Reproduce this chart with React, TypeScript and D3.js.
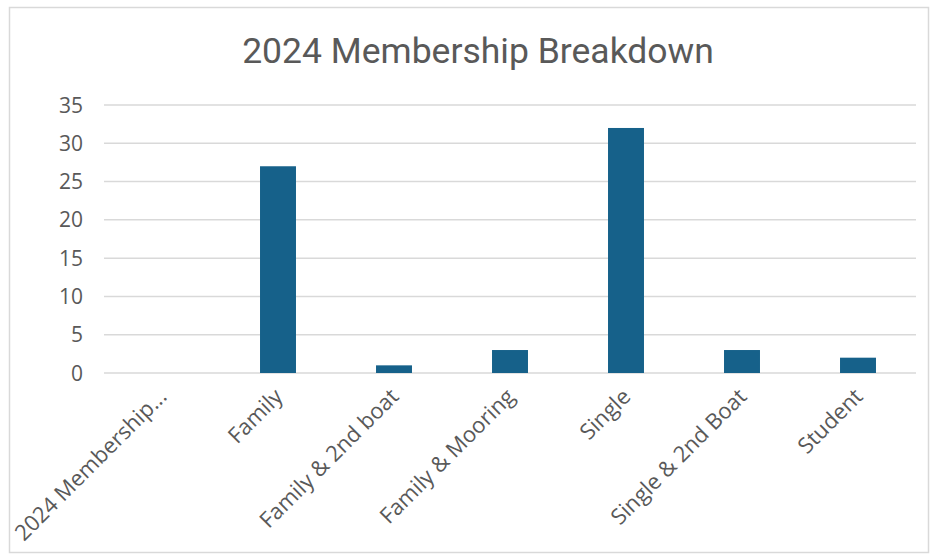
import React, { useEffect, useRef } from 'react';
import * as d3 from 'd3';

const categories = [
  '2024 Membership...',
  'Family',
  'Family & 2nd boat',
  'Family & Mooring',
  'Single',
  'Single & 2nd Boat',
  'Student',
];
const counts = [0, 27, 1, 3, 32, 3, 2];
const yTicks = [0, 5, 10, 15, 20, 25, 30, 35];
const title = '2024 Membership Breakdown';

const W = 936;
const H = 556;

const App: React.FC = () => {
  const svgRef = useRef<SVGSVGElement>(null);

  useEffect(() => {
    if (!svgRef.current) return;
    const svg = d3.select(svgRef.current);
    svg.selectAll('*').remove();

    const left = 104;
    const right = 916;
    const top = 105;
    const bottom = 373;

    // frame
    svg.append('rect')
      .attr('x', 9.5).attr('y', 7.5)
      .attr('width', 919).attr('height', 545)
      .attr('fill', '#fff')
      .attr('stroke', '#d9d9d9')
      .attr('stroke-width', 1.5);

    svg.append('text')
      .attr('x', 478).attr('y', 63)
      .attr('text-anchor', 'middle')
      .attr('font-family', 'Roboto, sans-serif')
      .attr('font-size', 35.5)
      .attr('fill', '#595959')
      .text(title);

    const x = d3.scaleBand<string>()
      .domain(categories)
      .range([left, right])
      .paddingInner(0.69)
      .paddingOuter(0.345);

    const y = d3.scaleLinear().domain([0, 35]).range([bottom, top]);

    // gridlines
    svg.append('g')
      .selectAll('line')
      .data(yTicks)
      .join('line')
      .attr('x1', left).attr('x2', right)
      .attr('y1', d => y(d)).attr('y2', d => y(d))
      .attr('stroke', '#d9d9d9')
      .attr('stroke-width', 1.5);

    // y tick labels
    svg.append('g')
      .selectAll('text')
      .data(yTicks)
      .join('text')
      .attr('x', 83)
      .attr('y', d => y(d))
      .attr('dy', '0.36em')
      .attr('text-anchor', 'end')
      .attr('font-family', '"Open Sans", sans-serif')
      .attr('font-size', 21)
      .attr('fill', '#595959')
      .text(d => d);

    // bars
    svg.append('g')
      .selectAll('rect')
      .data(counts)
      .join('rect')
      .attr('x', (_, i) => x(categories[i])!)
      .attr('width', x.bandwidth())
      .attr('y', d => y(d))
      .attr('height', d => y(0) - y(d))
      .attr('fill', '#16618a');

    // x labels, rotated
    svg.append('g')
      .selectAll('text')
      .data(categories)
      .join('text')
      .attr('transform', d => {
        const cx = x(d)! + x.bandwidth() / 2 + 6;
        return `translate(${cx},${bottom + 25}) rotate(-45)`;
      })
      .attr('text-anchor', 'end')
      .attr('font-family', '"Open Sans", sans-serif')
      .attr('font-size', 22)
      .attr('fill', '#595959')
      .text(d => d);
  }, []);

  return (
    <svg
      ref={svgRef}
      width={W}
      height={H}
      style={{ position: 'absolute', left: 0, top: 0, display: 'block' }}
    />
  );
};

export default App;
